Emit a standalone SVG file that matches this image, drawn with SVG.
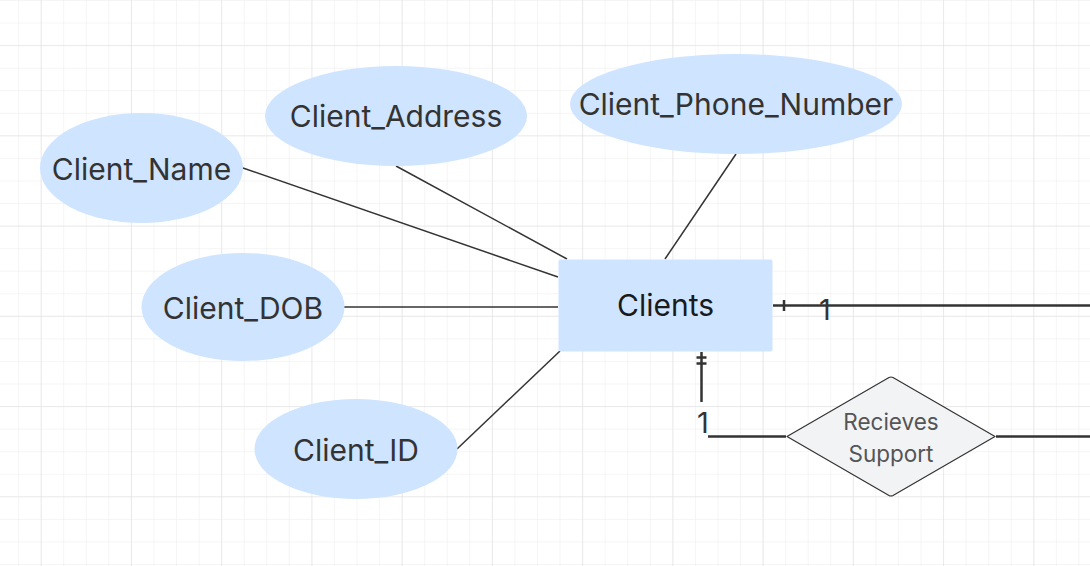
<svg xmlns="http://www.w3.org/2000/svg" width="1090" height="566" viewBox="0 0 1090 566">
  <defs>
    <pattern id="minor" patternUnits="userSpaceOnUse" x="18.1" y="0" width="22.56" height="22.56">
      <path d="M0 0 V22.56 M0 0 H22.56" fill="none" stroke="#ebebeb" stroke-width="1"/>
    </pattern>
    <pattern id="major" patternUnits="userSpaceOnUse" x="40.7" y="45.1" width="90.24" height="90.24">
      <path d="M0 0 V90.24 M0 0 H90.24" fill="none" stroke="#dedede" stroke-width="1"/>
    </pattern>
    <style>
      .attr { fill: #cfe4ff; }
      .lbl { font-family: Inter, "Liberation Sans", sans-serif; font-size: 30px; fill: #333333; text-anchor: middle; }
      .thin { stroke: #333333; stroke-width: 1.5; fill: none; }
      .thick { stroke: #333333; stroke-width: 2.5; fill: none; }
      .card { font-family: Inter, "Liberation Sans", sans-serif; font-size: 29px; fill: #333333; text-anchor: middle; }
      .rel { font-family: Inter, "Liberation Sans", sans-serif; font-size: 22.5px; fill: #555555; text-anchor: middle; }
    </style>
  </defs>
  <rect width="1090" height="566" fill="#ffffff"/>
  <rect width="1090" height="566" fill="url(#minor)"/>
  <rect width="1090" height="566" fill="url(#major)"/>

  <g id="connectors">
    <line class="thin" x1="243" y1="168" x2="558" y2="277"/>
    <line class="thin" x1="396" y1="166" x2="567" y2="259"/>
    <line class="thin" x1="736" y1="154" x2="665" y2="259"/>
    <line class="thin" x1="344" y1="307" x2="558" y2="307"/>
    <line class="thin" x1="457" y1="449" x2="560" y2="351"/>
    <line class="thick" x1="773" y1="305.5" x2="1090" y2="305.5"/>
    <line class="thick" x1="784" y1="300" x2="784" y2="311"/>
    <text class="card" x="825" y="319.5">1</text>
    <line class="thick" x1="701.5" y1="352" x2="701.5" y2="402"/>
    <line class="thick" x1="696.5" y1="357.5" x2="706.5" y2="357.5"/>
    <line class="thick" x1="696.5" y1="363.5" x2="706.5" y2="363.5"/>
    <text class="card" x="703" y="432.5">1</text>
    <line class="thick" x1="708" y1="436.5" x2="786" y2="436.5"/>
    <line class="thick" x1="996" y1="436.5" x2="1090" y2="436.5"/>
  </g>

  <g id="client-address">
    <ellipse class="attr" cx="396" cy="116" rx="131" ry="50"/>
    <text class="lbl" x="396" y="127">Client_Address</text>
  </g>
  <g id="client-phone-number">
    <ellipse class="attr" cx="736" cy="104" rx="166" ry="50"/>
    <text class="lbl" x="736" y="115">Client_Phone_Number</text>
  </g>
  <g id="client-name">
    <ellipse class="attr" cx="141.5" cy="168" rx="101.5" ry="55"/>
    <text class="lbl" x="141.5" y="179.5">Client_Name</text>
  </g>
  <g id="client-dob">
    <ellipse class="attr" cx="243" cy="307" rx="101.5" ry="54"/>
    <text class="lbl" x="243" y="318.5">Client_DOB</text>
  </g>
  <g id="client-id">
    <ellipse class="attr" cx="356" cy="449" rx="101.5" ry="50"/>
    <text class="lbl" x="356" y="460.5">Client_ID</text>
  </g>
  <g id="clients">
    <rect x="558.5" y="259.5" width="214" height="92" rx="2" fill="#cfe4ff"/>
    <text x="665.5" y="316" font-family="Inter, 'Liberation Sans', sans-serif" font-size="30" fill="#1a1a1a" text-anchor="middle">Clients</text>
  </g>
  <g id="recieves-support">
    <path d="M787 436.5 L889 377.5 Q891 376.5 893 377.5 L995 436.5 L893 495.5 Q891 496.5 889 495.5 Z" fill="#f2f3f5" stroke="#333333" stroke-width="1.2" stroke-linejoin="round"/>
    <text class="rel" x="891" y="429.5">Recieves</text>
    <text class="rel" x="891" y="461.5">Support</text>
  </g>
</svg>
